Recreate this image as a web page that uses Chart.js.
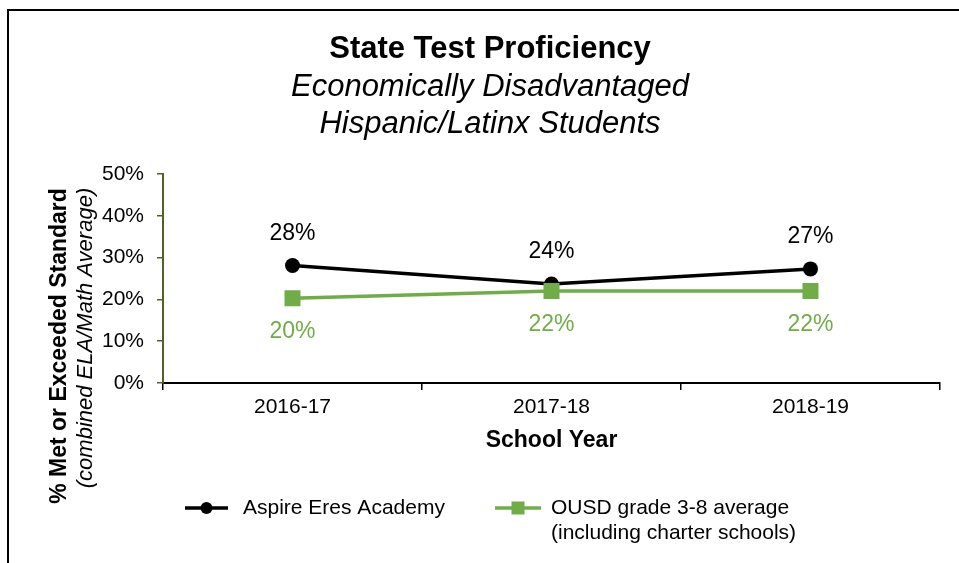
<!DOCTYPE html>
<html><head><meta charset="utf-8">
<script src="https://cdn.jsdelivr.net/npm/chart.js@4.4.0/dist/chart.umd.min.js"></script>
<style>
html,body{margin:0;padding:0;background:#fff;}
#wrap{position:relative;width:959px;height:563px;}
canvas{display:block;}
</style></head><body>
<div id="wrap"><canvas id="c" width="959" height="563"></canvas></div>
<script>
// ---- data ----
const categories = ['2016-17', '2017-18', '2018-19'];
const aspireValues = [28.1, 23.7, 27.3];
const ousdValues = [20.3, 22.0, 22.0];
const yTickValues = [0, 10, 20, 30, 40, 50];
const aspireName = 'Aspire Eres Academy';
const ousdName = ['OUSD grade 3-8 average', '(including charter schools)'];
const titleText = 'State Test Proficiency';
const subtitleLines = ['Economically Disadvantaged', 'Hispanic/Latinx Students'];
const yTitleMain = '% Met or Exceeded Standard';
const yTitleSub = '(combined ELA/Math Average)';
const xTitleText = 'School Year';

const FONT = '"Liberation Sans", Arial, Helvetica, sans-serif';
const BLACK = '#000000';
const GREEN = '#70AD47';
const OLIVE = '#4F6228';

const decor = {
  id: 'decor',
  beforeDraw(chart) {
    const ctx = chart.ctx;
    ctx.save();
    ctx.fillStyle = '#fff';
    ctx.fillRect(0, 0, chart.width, chart.height);
    ctx.restore();
  },
  afterDraw(chart) {
    const ctx = chart.ctx;
    const ca = chart.chartArea;
    ctx.save();
    // outer frame (top + left)
    ctx.strokeStyle = '#000';
    ctx.lineWidth = 2;
    ctx.beginPath();
    ctx.moveTo(8, chart.height);
    ctx.lineTo(8, 10);
    ctx.lineTo(chart.width, 10);
    ctx.stroke();

    // titles
    const cx = 490;
    ctx.fillStyle = '#000';
    ctx.textAlign = 'center';
    ctx.textBaseline = 'middle';
    ctx.font = 'bold 31px ' + FONT;
    ctx.fillText(titleText, cx, 49);
    ctx.font = 'italic 31px ' + FONT;
    ctx.fillText(subtitleLines[0], cx, 87);
    ctx.fillText(subtitleLines[1], cx, 124);

    // y-axis title
    ctx.save();
    ctx.translate(60, 346);
    ctx.rotate(-Math.PI / 2);
    ctx.font = 'bold 23px ' + FONT;
    ctx.fillText(yTitleMain, 0, 0);
    ctx.restore();
    ctx.save();
    ctx.translate(86, 338);
    ctx.rotate(-Math.PI / 2);
    ctx.font = 'italic 22px ' + FONT;
    ctx.fillText(yTitleSub, 0, 0);
    ctx.restore();

    // x-axis title
    ctx.font = 'bold 23px ' + FONT;
    ctx.fillText(xTitleText, (ca.left + ca.right) / 2, 441);

    // data labels
    ctx.font = '23px ' + FONT;
    chart.data.datasets.forEach((ds, i) => {
      const meta = chart.getDatasetMeta(i);
      ctx.fillStyle = ds.borderColor;
      meta.data.forEach((pt, j) => {
        const v = ds.data[j];
        const txt = Math.round(v) + '%';
        const dy = ds.labelAbove ? -32 : 34;
        ctx.fillText(txt, pt.x, pt.y + dy);
      });
    });

    // legend
    const ly = 508;
    ctx.textAlign = 'left';
    ctx.font = '21px ' + FONT;
    const d0 = chart.data.datasets[0], d1 = chart.data.datasets[1];
    ctx.strokeStyle = d0.borderColor;
    ctx.lineWidth = 3.5;
    ctx.beginPath(); ctx.moveTo(185, ly); ctx.lineTo(228, ly); ctx.stroke();
    ctx.fillStyle = d0.borderColor;
    ctx.beginPath(); ctx.arc(206.5, ly, 6, 0, Math.PI * 2); ctx.fill();
    ctx.fillStyle = '#000';
    ctx.fillText(aspireName, 243, ly);

    ctx.strokeStyle = d1.borderColor;
    ctx.beginPath(); ctx.moveTo(495, ly); ctx.lineTo(541, ly); ctx.stroke();
    ctx.fillStyle = d1.borderColor;
    ctx.fillRect(518 - 6.5, ly - 6.5, 13, 13);
    ctx.fillStyle = '#000';
    ctx.fillText(ousdName[0], 551, ly);
    ctx.fillText(ousdName[1], 551, ly + 25);
    ctx.restore();
  }
};

new Chart(document.getElementById('c'), {
  type: 'line',
  data: {
    labels: categories,
    datasets: [
      {
        label: aspireName,
        data: aspireValues,
        borderColor: BLACK,
        backgroundColor: BLACK,
        borderWidth: 3.5,
        pointStyle: 'circle',
        pointRadius: 7.5,
        pointBackgroundColor: BLACK,
        pointBorderColor: BLACK,
        pointBorderWidth: 0,
        tension: 0,
        labelAbove: true,
        order: 1
      },
      {
        label: ousdName.join(' '),
        data: ousdValues,
        borderColor: GREEN,
        backgroundColor: GREEN,
        borderWidth: 3.5,
        pointStyle: 'rect',
        pointRadius: 11.3,
        pointBackgroundColor: GREEN,
        pointBorderColor: GREEN,
        pointBorderWidth: 0,
        tension: 0,
        labelAbove: false,
        order: 0
      }
    ]
  },
  options: {
    responsive: false,
    animation: false,
    devicePixelRatio: 1,
    layout: { padding: { left: 0, right: 19, top: 174, bottom: 0 } },
    plugins: {
      legend: { display: false },
      title: { display: false },
      tooltip: { enabled: false }
    },
    scales: {
      x: {
        type: 'category',
        offset: true,
        grid: { display: true, drawOnChartArea: false, drawTicks: true, tickLength: 7, color: BLACK, lineWidth: 1.5, offset: true },
        border: { display: true, color: BLACK, width: 2 },
        ticks: { color: BLACK, font: { family: FONT, size: 21 }, padding: 5, maxRotation: 0 },
        afterFit(s) { s.height = 180; }
      },
      y: {
        min: 0,
        max: 50,
        afterBuildTicks(s) { s.ticks = yTickValues.map(v => ({ value: v })); },
        grid: { display: true, drawOnChartArea: false, drawTicks: true, tickLength: 6, color: OLIVE, lineWidth: 1.5 },
        border: { display: true, color: OLIVE, width: 2 },
        ticks: { color: BLACK, font: { family: FONT, size: 21 }, padding: 13, callback: v => v + '%' },
        afterFit(s) { s.width = 163; }
      }
    }
  },
  plugins: [decor]
});
</script>
</body></html>
